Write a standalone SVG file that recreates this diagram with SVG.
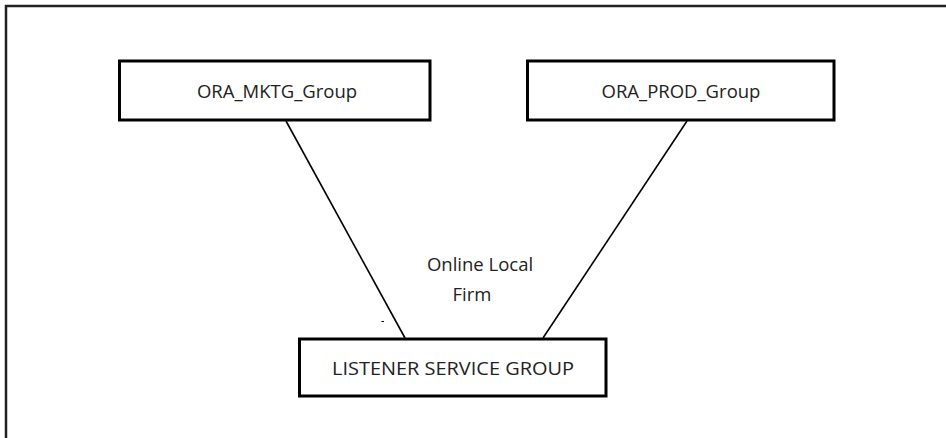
<svg xmlns="http://www.w3.org/2000/svg" width="946" height="438" viewBox="0 0 946 438">
<style>
.frame{fill:none;stroke:#222;stroke-width:2.5}
.box{fill:#fff;stroke:#000;stroke-width:3}
.conn{stroke:#000;stroke-width:1.6;fill:none}
.tick{stroke:#000;stroke-width:1}
text{font-family:"Open Sans","Noto Sans","Liberation Sans",sans-serif;font-size:18.5px;fill:#222;text-anchor:middle}
</style>
<rect width="946" height="438" fill="#fff"/>
<path class="frame" d="M6 440 V6 H950"/>
<g id="connectors">
<line class="conn" x1="286" y1="121" x2="405" y2="338"/>
<line class="conn" x1="687" y1="121" x2="543" y2="338"/>
<line class="tick" x1="271" y1="118.5" x2="274" y2="118.5"/>
<line class="tick" x1="381.5" y1="321.5" x2="384" y2="321.5"/>
</g>
<g id="ora_mktg_group">
<rect class="box" x="119.5" y="61" width="310.5" height="59"/>
<text x="277" y="98">ORA_MKTG_Group</text>
</g>
<g id="ora_prod_group">
<rect class="box" x="527.5" y="61" width="306.5" height="59"/>
<text x="681" y="98">ORA_PROD_Group</text>
</g>
<g id="listener_service_group">
<rect class="box" x="299.5" y="339" width="306.5" height="57"/>
<text x="453" y="375" textLength="242" lengthAdjust="spacingAndGlyphs">LISTENER SERVICE GROUP</text>
</g>
<g id="label">
<text x="480" y="271">Online Local</text>
<text x="472" y="301">Firm</text>
</g>
</svg>
